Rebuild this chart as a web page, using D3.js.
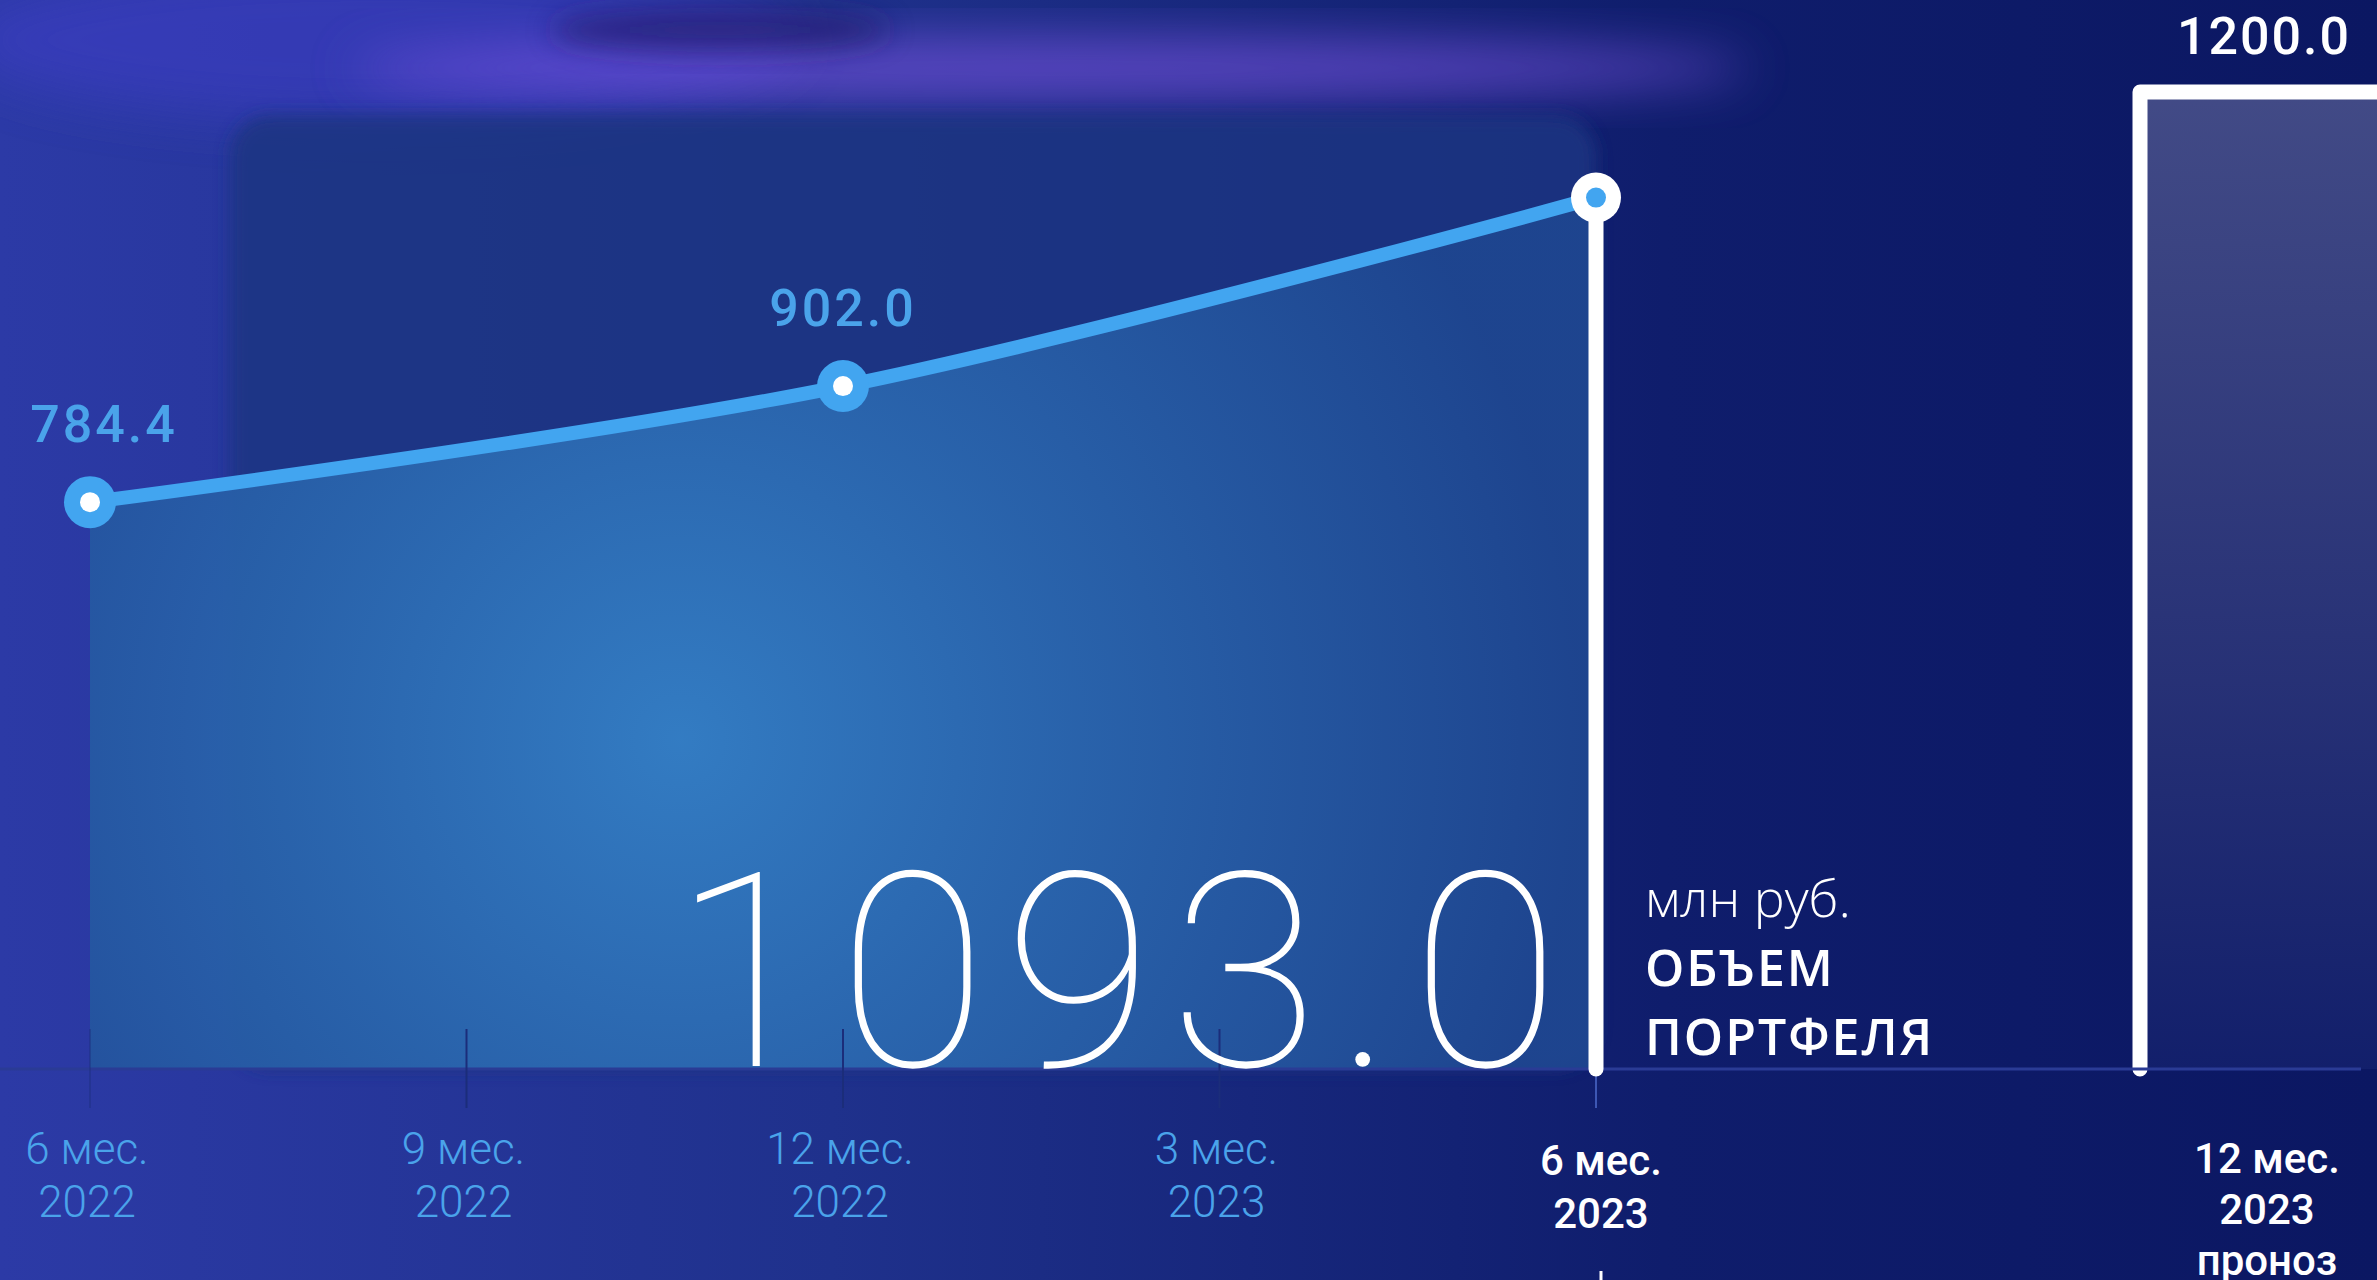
<!DOCTYPE html>
<html>
<head>
<meta charset="utf-8">
<script src="https://cdn.jsdelivr.net/npm/d3@7"></script>
<style>
  html, body { margin: 0; padding: 0; background: #0d1a66; overflow: hidden; }
  svg { display: block; }
</style>
</head>
<body>
<script>
// portfolio volume, mln rub.
var periods = ["6 мес.|2022", "9 мес.|2022", "12 мес.|2022", "3 мес.|2023", "6 мес.|2023"];
var pointPeriods = ["6 мес.|2022", "12 мес.|2022", "6 мес.|2023"];
var pointValues = [784.4, 902.0, 1093.0];
var forecastLabel = ["12 мес.", "2023", "проноз"];
var forecastValue = 1200.0;
var unitLabel = "млн руб.";
var titleLines = ["ОБЪЕМ", "ПОРТФЕЛЯ"];

var W = 2377, H = 1280;
var base = 1069;

var svg = d3.select("body")
    .append("svg")
    .attr("width", W)
    .attr("height", H);

var defs = svg.append("defs");

var bgGrad = defs.append("linearGradient").attr("id", "bg")
    .attr("x1", 0).attr("x2", 1).attr("y1", 0).attr("y2", 0);
bgGrad.append("stop").attr("offset", 0).attr("stop-color", "#2c3aa6");
bgGrad.append("stop").attr("offset", 0.35).attr("stop-color", "#1f318c");
bgGrad.append("stop").attr("offset", 0.7).attr("stop-color", "#0f1d6c");
bgGrad.append("stop").attr("offset", 1).attr("stop-color", "#0b1762");

var areaGrad = defs.append("radialGradient").attr("id", "areaFill")
    .attr("gradientUnits", "userSpaceOnUse")
    .attr("cx", 680).attr("cy", 740).attr("r", 900);
areaGrad.append("stop").attr("offset", 0).attr("stop-color", "#3582c8");
areaGrad.append("stop").attr("offset", 0.45).attr("stop-color", "#2a66ae");
areaGrad.append("stop").attr("offset", 1).attr("stop-color", "#1e4690");

var barGrad = defs.append("linearGradient").attr("id", "barFill")
    .attr("x1", 0).attr("x2", 0).attr("y1", 0).attr("y2", 1);
barGrad.append("stop").attr("offset", 0).attr("stop-color", "#48508a");
barGrad.append("stop").attr("offset", 0.6).attr("stop-color", "#2a3478");
barGrad.append("stop").attr("offset", 1).attr("stop-color", "#13206c");

defs.append("filter").attr("id", "blur")
    .attr("x", "-50%").attr("y", "-50%").attr("width", "200%").attr("height", "200%")
    .append("feGaussianBlur").attr("stdDeviation", 25);
defs.append("filter").attr("id", "blurM")
    .attr("x", "-50%").attr("y", "-50%").attr("width", "200%").attr("height", "200%")
    .append("feGaussianBlur").attr("stdDeviation", 14);
defs.append("filter").attr("id", "blurS")
    .attr("x", "-20%").attr("y", "-20%").attr("width", "140%").attr("height", "140%")
    .append("feGaussianBlur").attr("stdDeviation", 8);

// background (blurred photo feel)
svg.append("rect").attr("width", W).attr("height", H).attr("fill", "url(#bg)");
svg.append("ellipse")
    .attr("cx", 380).attr("cy", 40).attr("rx", 420).attr("ry", 80)
    .attr("fill", "#3d3ec4").attr("opacity", 0.6).attr("filter", "url(#blur)");
svg.append("ellipse")
    .attr("cx", 1050).attr("cy", 68).attr("rx", 700).attr("ry", 30)
    .attr("fill", "#7d54e4").attr("opacity", 0.65).attr("filter", "url(#blur)");
svg.append("ellipse")
    .attr("cx", 720).attr("cy", 30).attr("rx", 170).attr("ry", 22)
    .attr("fill", "#231f6e").attr("opacity", 0.7).attr("filter", "url(#blurM)");

var x = d3.scalePoint()
    .domain(periods)
    .range([90, 1596]);

var xf = d3.scaleBand()
    .domain([forecastLabel.join("|")])
    .range([2140, 2396]);

// value axis is not shown; domain trimmed the way the original layout is
var y = d3.scaleLinear()
    .domain([210, 1200])
    .range([base, 92]);

svg.append("rect")
    .attr("x", 230).attr("y", 115)
    .attr("width", x.range()[1] - 230).attr("height", base - 115).attr("rx", 40)
    .attr("fill", "#1b3482").attr("opacity", 0.85).attr("filter", "url(#blurS)");

var pts = pointPeriods.map(function (p, i) {
    return {p: p, v: pointValues[i]};
});

var curve = d3.curveCardinal.tension(0);

var area = d3.area()
    .x(function (d) { return x(d.p); })
    .y0(base)
    .y1(function (d) { return y(d.v); })
    .curve(curve);

var line = d3.line()
    .x(function (d) { return x(d.p); })
    .y(function (d) { return y(d.v); })
    .curve(curve);

svg.append("path")
    .attr("d", area(pts))
    .attr("fill", "url(#areaFill)")
    .attr("opacity", 0.92);

// forecast bar
var bx = xf(forecastLabel.join("|"));
svg.append("rect")
    .attr("x", bx).attr("y", y(forecastValue))
    .attr("width", xf.bandwidth()).attr("height", base - y(forecastValue))
    .attr("fill", "url(#barFill)")
    .attr("opacity", 0.9);
svg.append("path")
    .attr("d", "M" + bx + "," + base + "V" + y(forecastValue) + "H" + (bx + xf.bandwidth() + 20))
    .attr("fill", "none")
    .attr("stroke", "#fff")
    .attr("stroke-width", 15)
    .attr("stroke-linecap", "round")
    .attr("stroke-linejoin", "round");

svg.append("text")
    .attr("x", bx + xf.bandwidth() / 2 - 4)
    .attr("y", y(forecastValue) - 38)
    .attr("text-anchor", "middle")
    .attr("fill", "#fff")
    .style("font-family", "Roboto")
    .style("font-weight", 500)
    .style("font-size", "52px")
    .style("letter-spacing", "2px")
    .text(d3.format(".1f")(forecastValue));

// axis line and ticks
svg.append("line")
    .attr("x1", 0).attr("x2", 2361)
    .attr("y1", base).attr("y2", base)
    .attr("stroke", "#2a3b95").attr("stroke-width", 3);

svg.selectAll(".tick")
    .data(periods)
    .enter()
    .append("line")
    .attr("x1", function (d) { return x(d); })
    .attr("x2", function (d) { return x(d); })
    .attr("y1", function (d, i) { return i === periods.length - 1 ? base : 1029; })
    .attr("y2", 1108)
    .attr("stroke", function (d, i) { return i === periods.length - 1 ? "#3d57b4" : "#1b2d7a"; })
    .attr("stroke-opacity", function (d, i) { return i === 0 ? 0.4 : 1; })
    .attr("stroke-width", 2);

svg.append("line")
    .attr("x1", x(periods[4]) + 5).attr("x2", x(periods[4]) + 5)
    .attr("y1", 1271).attr("y2", H)
    .attr("stroke", "#fff").attr("stroke-width", 3);

// vertical marker at the last actual point
var last = pts[pts.length - 1];
svg.append("line")
    .attr("x1", x(last.p)).attr("x2", x(last.p))
    .attr("y1", y(last.v)).attr("y2", base)
    .attr("stroke", "#fff")
    .attr("stroke-width", 15)
    .attr("stroke-linecap", "round");

svg.append("path")
    .attr("d", line(pts))
    .attr("fill", "none")
    .attr("stroke", "#42a5f0")
    .attr("stroke-width", 14);

svg.selectAll(".dot")
    .data(pts)
    .enter()
    .append("circle")
    .attr("cx", function (d) { return x(d.p); })
    .attr("cy", function (d) { return y(d.v); })
    .attr("r", function (d, i) { return i === pts.length - 1 ? 25 : 26; })
    .attr("fill", function (d, i) { return i === pts.length - 1 ? "#fff" : "#42a5f0"; });

svg.selectAll(".dotIn")
    .data(pts)
    .enter()
    .append("circle")
    .attr("cx", function (d) { return x(d.p); })
    .attr("cy", function (d) { return y(d.v); })
    .attr("r", 10)
    .attr("fill", function (d, i) { return i === pts.length - 1 ? "#42a5f0" : "#fff"; });

// value labels for the first points
svg.selectAll(".vlab")
    .data(pts.slice(0, pts.length - 1))
    .enter()
    .append("text")
    .attr("x", function (d, i) { return Math.max(x(d.p), 104); })
    .attr("y", function (d) { return y(d.v) - 60; })
    .attr("text-anchor", "middle")
    .attr("fill", "#4aa3ea")
    .style("font-family", "Roboto")
    .style("font-weight", 500)
    .style("font-size", "52px")
    .style("letter-spacing", "3px")
    .text(function (d) { return d3.format(".1f")(d.v); });

// big current value
svg.append("text")
    .attr("x", x(last.p) - 19)
    .attr("y", 1066)
    .attr("text-anchor", "end")
    .attr("fill", "#fff")
    .style("font-family", "Roboto")
    .style("font-weight", 100)
    .style("font-size", "272px")
    .style("letter-spacing", "17px")
    .text(d3.format(".1f")(last.v));

svg.append("text")
    .attr("x", 1645).attr("y", 917)
    .attr("fill", "#fff")
    .style("font-family", "'Open Sans'")
    .style("font-weight", 300)
    .style("font-size", "52px")
    .text(unitLabel);

svg.selectAll(".title")
    .data(titleLines)
    .enter()
    .append("text")
    .attr("x", 1645)
    .attr("y", function (d, i) { return 986 + i * 69; })
    .attr("fill", "#fff")
    .style("font-family", "'Open Sans'")
    .style("font-weight", 600)
    .style("font-size", "50px")
    .style("letter-spacing", "2px")
    .text(function (d) { return d; });

// x labels
var xl = svg.selectAll(".xlab")
    .data(periods)
    .enter()
    .append("text")
    .attr("text-anchor", "middle")
    .attr("fill", function (d, i) { return i === periods.length - 1 ? "#fff" : "#4aa3ea"; })
    .style("font-family", "Roboto")
    .style("font-weight", function (d, i) { return i === periods.length - 1 ? 500 : 300; })
    .style("font-size", function (d, i) { return i === periods.length - 1 ? "42px" : "44px"; });

xl.each(function (d, i) {
    var parts = d.split("|");
    var cur = i === periods.length - 1;
    d3.select(this).selectAll("tspan")
        .data(parts)
        .enter()
        .append("tspan")
        .attr("x", x(d) + (cur ? 5 : -3))
        .attr("y", function (p, j) { return (cur ? 1175 : 1164) + j * 53; })
        .text(function (p) { return p; });
});

svg.append("text")
    .attr("text-anchor", "middle")
    .attr("fill", "#fff")
    .style("font-family", "Roboto")
    .style("font-weight", 500)
    .style("font-size", "42px")
    .selectAll("tspan")
    .data(forecastLabel)
    .enter()
    .append("tspan")
    .attr("x", bx + xf.bandwidth() / 2 - 1)
    .attr("y", function (d, i) { return 1173 + i * 51; })
    .text(function (d) { return d; });
</script>
</body>
</html>
